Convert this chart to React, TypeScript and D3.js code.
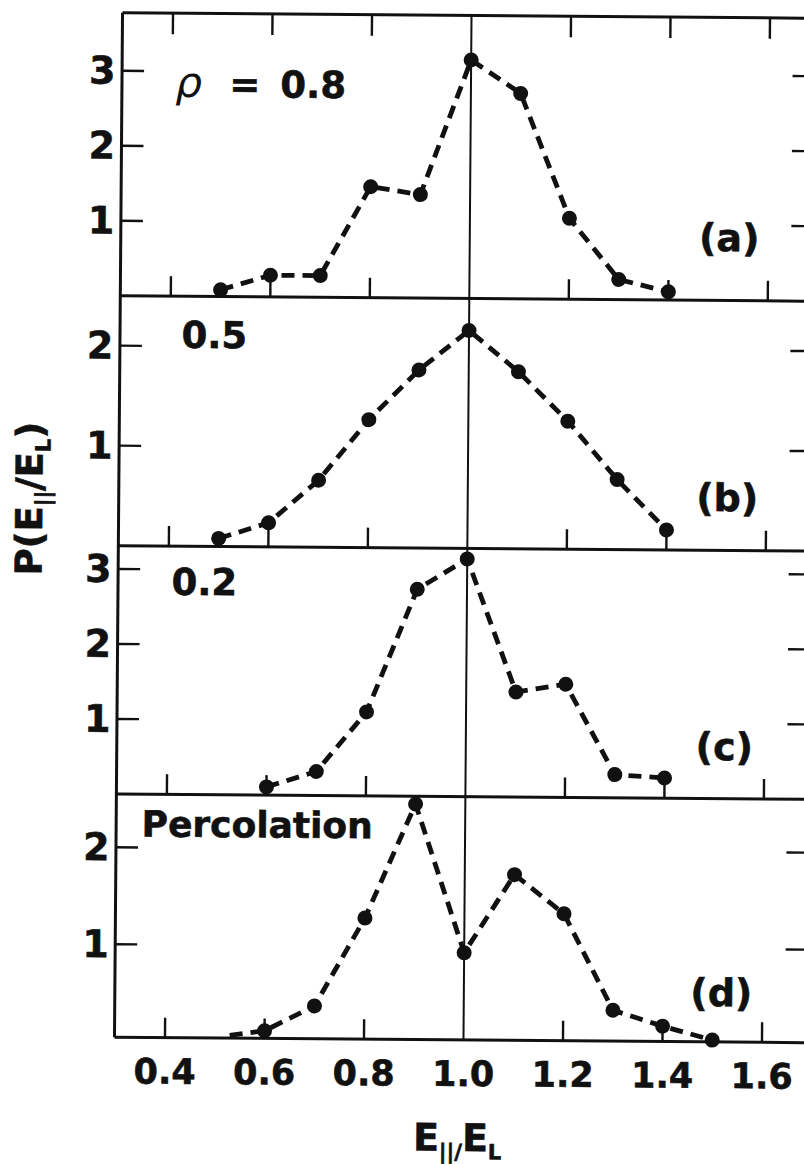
import React from "react";
import * as d3 from "d3";

// ---------- data ----------
const xTickValues = [0.4, 0.6, 0.8, 1.0, 1.2, 1.4, 1.6];
const xTickLabels = ["0.4", "0.6", "0.8", "1.0", "1.2", "1.4", "1.6"];

const xA = [0.5, 0.6, 0.7, 0.8, 0.9, 1.0, 1.1, 1.2, 1.3, 1.4];
const pA = [0.09, 0.29, 0.29, 1.48, 1.38, 3.18, 2.74, 1.08, 0.27, 0.11];

const xB = [0.5, 0.6, 0.7, 0.8, 0.9, 1.0, 1.1, 1.2, 1.3, 1.4];
const pB = [0.08, 0.24, 0.67, 1.28, 1.78, 2.18, 1.77, 1.28, 0.7, 0.2];

const xC = [0.6, 0.7, 0.8, 0.9, 1.0, 1.1, 1.2, 1.3, 1.4];
const pC = [0.11, 0.32, 1.12, 2.76, 3.17, 1.4, 1.51, 0.31, 0.27];

const xD = [0.6, 0.7, 0.8, 0.9, 1.0, 1.1, 1.2, 1.3, 1.4, 1.5];
const pD = [0.12, 0.38, 1.29, 2.47, 0.94, 1.75, 1.35, 0.36, 0.2, 0.06];
const lineStartXD = [0.53];
const lineStartPD = [0.07];

const yTicksA = [1, 2, 3];
const yTicksB = [1, 2];
const yTicksC = [1, 2, 3];
const yTicksD = [1, 2];

const panelTags = ["(a)", "(b)", "(c)", "(d)"];
const panelNotes = ["0.8", "0.5", "0.2", "Percolation"];

// ---------- layout ----------
const W = 804;
const H = 1164;
const FRAME_L = 118.5;
const FRAME_R = 812;
const FONT = "'DejaVu Sans', 'Liberation Sans', Arial, sans-serif";
const INK = "#111";

const x = d3.scaleLinear().domain([0.4, 1.6]).range([169, 766]);

const geom = [
  { top: 15.5, bottom: 298.5, zero: 298.5, unit: 75 },
  { top: 298.5, bottom: 548.4, zero: 548.4, unit: 100 },
  { top: 548.4, bottom: 796.7, zero: 796.7, unit: 75 },
  { top: 796.7, bottom: 1040, zero: 1044, unit: 97 },
];

const series = [
  { xs: xA, ps: pA, ticks: yTicksA, startX: [] as number[], startP: [] as number[] },
  { xs: xB, ps: pB, ticks: yTicksB, startX: [] as number[], startP: [] as number[] },
  { xs: xC, ps: pC, ticks: yTicksC, startX: [] as number[], startP: [] as number[] },
  { xs: xD, ps: pD, ticks: yTicksD, startX: lineStartXD, startP: lineStartPD },
];

const tagPos = [
  { x: 727, y: 249 },
  { x: 727, y: 509 },
  { x: 726, y: 758 },
  { x: 725, y: 1004 },
];

const textStroke = { stroke: INK, strokeWidth: 0.6 };

export default function App() {
  const panels = geom.map((g, i) => {
    const y = d3
      .scaleLinear()
      .domain([0, (g.zero - g.top) / g.unit])
      .range([g.zero, g.top]);
    const s = series[i];
    const pts: [number, number][] = [
      ...s.startX.map((v, k) => [v, s.startP[k]] as [number, number]),
      ...s.xs.map((v, k) => [v, s.ps[k]] as [number, number]),
    ];
    const line = d3
      .line<[number, number]>()
      .x((d) => x(d[0]))
      .y((d) => y(d[1]));
    return { g, y, s, path: line(pts) || "" };
  });

  return (
    <div style={{ position: "absolute", left: 0, top: 0 }}>
      <svg width={W} height={H} viewBox={`0 0 ${W} ${H}`} style={{ display: "block", background: "#fff" }}>
        <rect x={0} y={0} width={W} height={H} fill="#fff" />
        <g transform="rotate(0.45 467 527)">
          {panels.map(({ g, y, s, path }, i) => (
            <g key={i}>
              {xTickValues.map((v, k) =>
                Math.abs(v - 1.0) < 1e-6 ? null : (
                  <line key={"b" + k} x1={x(v)} x2={x(v)} y1={g.bottom} y2={g.bottom - 20} stroke={INK} strokeWidth={2.4} />
                )
              )}
              {i === 0 &&
                xTickValues.map((v, k) =>
                  Math.abs(v - 1.0) < 1e-6 ? null : (
                    <line key={"t" + k} x1={x(v)} x2={x(v)} y1={g.top} y2={g.top + 21} stroke={INK} strokeWidth={2.4} />
                  )
                )}
              {s.ticks.map((t) => (
                <g key={"y" + t}>
                  <line x1={FRAME_L} x2={FRAME_L + 22} y1={y(t)} y2={y(t)} stroke={INK} strokeWidth={2.4} />
                  <line x1={FRAME_R - 23} x2={FRAME_R} y1={y(t)} y2={y(t)} stroke={INK} strokeWidth={2.4} />
                  <text
                    x={112}
                    y={y(t)}
                    textAnchor="end"
                    dominantBaseline="central"
                    fontFamily={FONT}
                    fontWeight="bold"
                    fontSize={38}
                    fill={INK}
                    {...textStroke}
                  >
                    {t}
                  </text>
                </g>
              ))}
              <line x1={FRAME_L} x2={FRAME_R} y1={g.bottom} y2={g.bottom} stroke={INK} strokeWidth={3} />
              <path d={path} fill="none" stroke={INK} strokeWidth={4.8} strokeDasharray="13 8" />
              {s.xs.map((v, k) => (
                <circle key={"c" + k} cx={x(v)} cy={y(s.ps[k])} r={7.5} fill={INK} />
              ))}
              <text
                x={tagPos[i].x}
                y={tagPos[i].y}
                textAnchor="middle"
                fontFamily={FONT}
                fontWeight="bold"
                fontSize={38}
                fill={INK}
                {...textStroke}
              >
                {panelTags[i]}
              </text>
            </g>
          ))}

          <line x1={FRAME_L} x2={FRAME_R} y1={geom[0].top} y2={geom[0].top} stroke={INK} strokeWidth={3} />
          <line x1={FRAME_L} x2={FRAME_L} y1={geom[0].top} y2={geom[3].bottom} stroke={INK} strokeWidth={3} />
          <line x1={FRAME_R} x2={FRAME_R} y1={geom[0].top} y2={geom[3].bottom} stroke={INK} strokeWidth={3} />
          <line x1={x(1.0)} x2={x(1.0)} y1={geom[0].top} y2={geom[3].bottom} stroke={INK} strokeWidth={2} />

          <text y={99} fontFamily={FONT} fontSize={37} fill={INK}>
            <tspan x={172} fontStyle="italic" fontSize={42}>ρ</tspan>
            <tspan x={226} fontWeight="bold" {...textStroke}>=</tspan>
            <tspan x={277} fontWeight="bold" {...textStroke}>{panelNotes[0]}</tspan>
          </text>
          <text x={180} y={350} fontFamily={FONT} fontWeight="bold" fontSize={37} fill={INK} {...textStroke}>
            {panelNotes[1]}
          </text>
          <text x={172} y={597} fontFamily={FONT} fontWeight="bold" fontSize={37} fill={INK} {...textStroke}>
            {panelNotes[2]}
          </text>
          <text x={144} y={839} fontFamily={FONT} fontWeight="bold" fontSize={36} fill={INK} {...textStroke}>
            {panelNotes[3]}
          </text>

          {xTickValues.map((v, k) => (
            <text
              key={"xl" + k}
              x={x(v)}
              y={1086}
              textAnchor="middle"
              fontFamily={FONT}
              fontWeight="bold"
              fontSize={35}
              fill={INK}
              {...textStroke}
            >
              {xTickLabels[k]}
            </text>
          ))}

          <text x={462} y={1151} textAnchor="middle" fontFamily={FONT} fontWeight="bold" fontSize={38} fill={INK} {...textStroke}>
            E
            <tspan fontSize={21} dy={8}>||/</tspan>
            <tspan fontSize={38} dy={-8}>E</tspan>
            <tspan fontSize={21} dy={8}>L</tspan>
          </text>

          <text
            transform="translate(42 502) rotate(-90)"
            textAnchor="middle"
            fontFamily={FONT}
            fontWeight="bold"
            fontSize={37}
            fill={INK}
            {...textStroke}
          >
            P(E
            <tspan fontSize={21} dy={8}>||</tspan>
            <tspan fontSize={37} dy={-8}>/E</tspan>
            <tspan fontSize={21} dy={8}>L</tspan>
            <tspan fontSize={37} dy={-8}>)</tspan>
          </text>
        </g>
      </svg>
    </div>
  );
}
